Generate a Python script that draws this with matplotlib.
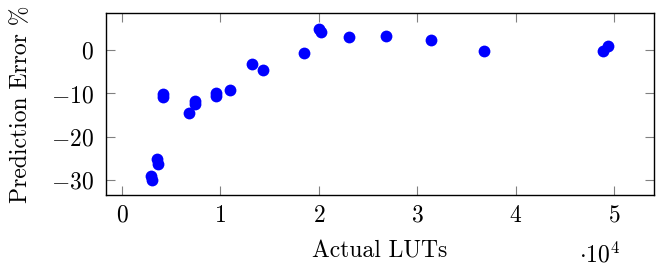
#! /usr/bin/env python3
# coding: utf-8

import matplotlib

matplotlib.use("Agg")
import matplotlib.pyplot as plt
from matplotlib.ticker import FuncFormatter

# actual LUT counts and prediction error (%)
actual_luts = [
    2975, 3045, 3553, 3614, 4122, 4162, 6802, 7370, 7411, 9503, 9574, 11025,
    13198, 14345, 18508, 20061, 20203, 23107, 26865, 31401, 36812, 48893, 49401,
]
prediction_error = [
    -29.1, -30.0, -25.2, -26.2, -10.15, -10.8, -14.6, -11.8, -12.4, -9.9, -10.6,
    -9.3, -3.3, -4.5, -0.7, 5.0, 4.3, 3.0, 3.38, 2.38, -0.15, -0.15, 0.92,
]
x_ticks = [0, 10000, 20000, 30000, 40000, 50000]
y_ticks = [-30, -20, -10, 0]

plt.rcParams["font.family"] = "serif"
plt.rcParams["font.serif"] = ["cmr10"]
plt.rcParams["mathtext.fontset"] = "cm"
plt.rcParams["axes.formatter.use_mathtext"] = True
plt.rcParams["font.size"] = 17


def main():
    fig = plt.figure(figsize=(6.68, 2.74), dpi=100)
    ax = fig.add_axes([0.158, 0.288, 0.821, 0.663])

    ax.plot(actual_luts, prediction_error, "o", color="#0000ff",
            markersize=8.5, markeredgewidth=0)
    ax.margins(0.1)

    ax.set_xticks(x_ticks)
    ax.set_yticks(y_ticks)
    ax.xaxis.set_major_formatter(FuncFormatter(lambda v, _: "$%g$" % (v / 1e4)))
    ax.yaxis.set_major_formatter(FuncFormatter(lambda v, _: "$%g$" % v))
    ax.tick_params(direction="in", length=6.5, width=0.8, color="#808080",
                   top=True, right=True)
    ax.tick_params(axis="x", pad=7)
    ax.tick_params(axis="y", pad=8.5)
    for spine in ax.spines.values():
        spine.set_linewidth(1.0)

    ax.set_xlabel("Actual LUTs")
    ax.xaxis.set_label_coords(0.5, -0.25)
    ax.set_ylabel("Prediction Error %")
    ax.yaxis.set_label_coords(-0.133, 0.5)
    ax.text(0.9, -0.37, r"$\cdot 10^4$", transform=ax.transAxes,
            ha="center", va="baseline")

    fig.savefig("out.png", dpi=100)


if __name__ == "__main__":
    main()
